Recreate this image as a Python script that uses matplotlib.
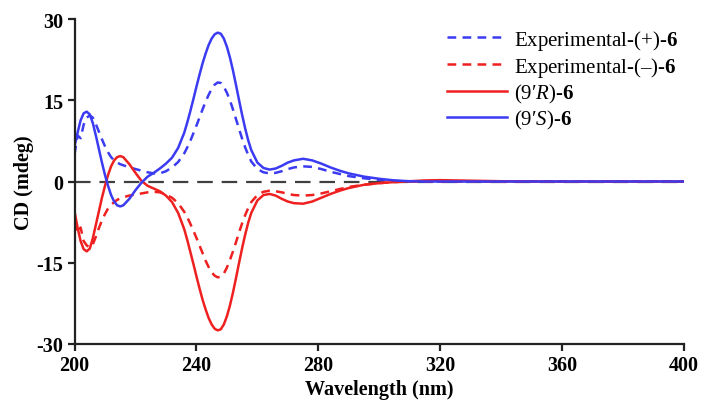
import matplotlib
matplotlib.use('Agg')
import matplotlib.pyplot as plt

# wavelength grid (nm)
WL = [200, 201, 202, 203, 204, 205, 206, 207, 208, 209, 210, 211, 212, 213, 214, 215, 216,
      218, 220, 222, 224, 226, 228, 230, 232, 234,
      236, 237, 238, 239, 240, 241, 242, 243, 244, 245, 246, 247, 248, 249, 250, 251, 252,
      253, 254, 255, 256, 257, 258,
      260, 262, 264, 266, 268, 270, 272,
      275, 278, 281, 284, 287, 290,
      295, 300, 305, 310, 315, 320,
      330, 340, 360, 380, 400]

# (9'S)-6 calculated
CALC_S = [6.5, 9, 11.3, 12.6, 12.9, 12.4, 10.8, 8.5, 6, 3.5, 1.2, -0.8, -2.5, -3.7, -4.4, -4.6, -4.4,
          -3.2, -1.6, -0.2, 0.9, 1.6, 2.4, 3.3, 4.4, 6.2,
          9.0, 10.9, 13.0, 15.2, 17.5, 19.7, 21.8, 23.6, 25.2, 26.4, 27.2, 27.5, 27.3, 26.4, 24.9, 22.9, 20.5,
          17.8, 15.0, 12.3, 9.8, 7.6, 5.8,
          3.5, 2.5, 2.2, 2.4, 2.9, 3.5, 3.9,
          4.2, 3.9, 3.3, 2.6, 2.0, 1.5,
          0.9, 0.5, 0.2, 0.05, 0, 0,
          0, 0, 0, 0, 0]

# (9'R)-6 calculated
CALC_R = [-5.5, -8.5, -11, -12.5, -12.9, -12.4, -10.5, -8, -5.5, -3.0, -0.8, 1.2, 2.8, 3.9, 4.5, 4.7, 4.5,
          3.2, 1.6, 0.1, -0.8, -1.3, -1.8, -2.6, -3.8, -5.8,
          -8.8, -10.8, -13, -15.2, -17.5, -19.7, -21.8, -23.6, -25.2, -26.4, -27.2, -27.5, -27.3, -26.4, -24.9, -22.9, -20.5,
          -17.8, -15, -12.3, -9.8, -7.6, -5.8,
          -3.5, -2.5, -2.3, -2.6, -3.2, -3.7, -4.0,
          -4.1, -3.7, -3.0, -2.3, -1.7, -1.2,
          -0.6, -0.3, -0.1, 0.05, 0.2, 0.25,
          0.15, 0.05, 0, 0, 0]

# Experimental-(+)-6
EXP_P = [5.0, 8.5, 8.0, 10.5, 11.8, 12.2, 11.8, 10.6, 9.2, 7.8, 6.5, 5.4, 4.5, 3.9, 3.5, 3.2, 3.0,
         2.6, 2.3, 2.0, 1.7, 1.5, 1.5, 1.9, 2.6, 3.6,
         5.2, 6.3, 7.5, 8.9, 10.3, 11.8, 13.3, 14.7, 16.0, 17.1, 17.9, 18.3, 18.2, 17.5, 16.4, 15.0, 13.3,
         11.5, 9.7, 7.9, 6.3, 4.9, 3.7,
         2.3, 1.7, 1.5, 1.6, 1.9, 2.3, 2.6,
         2.8, 2.7, 2.3, 1.8, 1.4, 1.0,
         0.6, 0.3, 0.1, 0, 0, 0,
         0, 0, 0, 0, 0]

# Experimental-(-)-6
EXP_M = [-7.5, -9.5, -8.5, -11, -11.8, -12.2, -11.6, -10.2, -8.6, -7.2, -6, -5.0, -4.3, -3.8, -3.4, -3.1, -2.9,
         -2.6, -2.4, -2.2, -2.0, -1.9, -2.0, -2.4, -3.0, -4.0,
         -5.6, -6.6, -7.8, -9.1, -10.4, -11.8, -13.2, -14.6, -15.8, -16.8, -17.4, -17.7, -17.6, -17.0, -15.9, -14.5, -12.9,
         -11.2, -9.4, -7.7, -6.2, -4.9, -3.8,
         -2.5, -1.9, -1.7, -1.8, -2.0, -2.3, -2.5,
         -2.6, -2.5, -2.2, -1.8, -1.4, -1.0,
         -0.6, -0.3, -0.1, 0, 0, 0,
         0, 0, 0, 0, 0]

XTICKS = [200, 240, 280, 320, 360, 400]
YTICKS = [-30, -15, 0, 15, 30]

BLUE = '#3b3bf2'
RED = '#ee2020'

plt.rcParams['font.family'] = ['Liberation Serif', 'DejaVu Serif']
plt.rcParams['axes.unicode_minus'] = False
plt.rcParams['mathtext.fontset'] = 'custom'
plt.rcParams['mathtext.rm'] = 'Liberation Serif'
plt.rcParams['mathtext.it'] = 'Liberation Serif:italic'
plt.rcParams['mathtext.bf'] = 'Liberation Serif:bold'

fig = plt.figure(figsize=(7.03, 4.02), dpi=100)
ax = fig.add_axes([0.106, 0.142, 0.867, 0.808])

ax.axhline(0, color='#404040', lw=1.6, ls=(0, (7, 4)), zorder=1)
ax.plot(WL, EXP_P, color=BLUE, lw=1.8, ls=(0, (3.5, 2.5)), label='Experimental-(+)-$\\mathbf{6}$')
ax.plot(WL, EXP_M, color=RED, lw=1.8, ls=(0, (3.5, 2.5)), label='Experimental-(\u2013)-$\\mathbf{6}$')
ax.plot(WL, CALC_R, color=RED, lw=1.8, label='(9\u2032$\\it{R}$)-$\\mathbf{6}$')
ax.plot(WL, CALC_S, color=BLUE, lw=1.8, label='(9\u2032$\\it{S}$)-$\\mathbf{6}$')

ax.set_xlim(200, 400)
ax.set_ylim(-30, 30)
ax.set_xticks(XTICKS)
ax.set_yticks(YTICKS)
for s in ['top', 'right']:
    ax.spines[s].set_visible(False)
for s in ['left', 'bottom']:
    ax.spines[s].set_linewidth(1.6)
    ax.spines[s].set_color('#222222')
ax.tick_params(direction='out', length=5, width=1.6, color='#222222', labelsize=14.5, pad=3)
for lab in ax.get_xticklabels() + ax.get_yticklabels():
    lab.set_fontweight('bold')

ax.set_ylabel('CD (mdeg)', fontsize=14.5, fontweight='bold', labelpad=2)
ax.set_xlabel('Wavelength (nm)', fontsize=14.5, fontweight='bold', labelpad=3)

ax.legend(loc='upper right', bbox_to_anchor=(1.01, 1.012), frameon=False, fontsize=15,
          handlelength=2.9, handletextpad=0.3, labelspacing=0.14, borderaxespad=0.2)

fig.savefig('out.png', dpi=100)
